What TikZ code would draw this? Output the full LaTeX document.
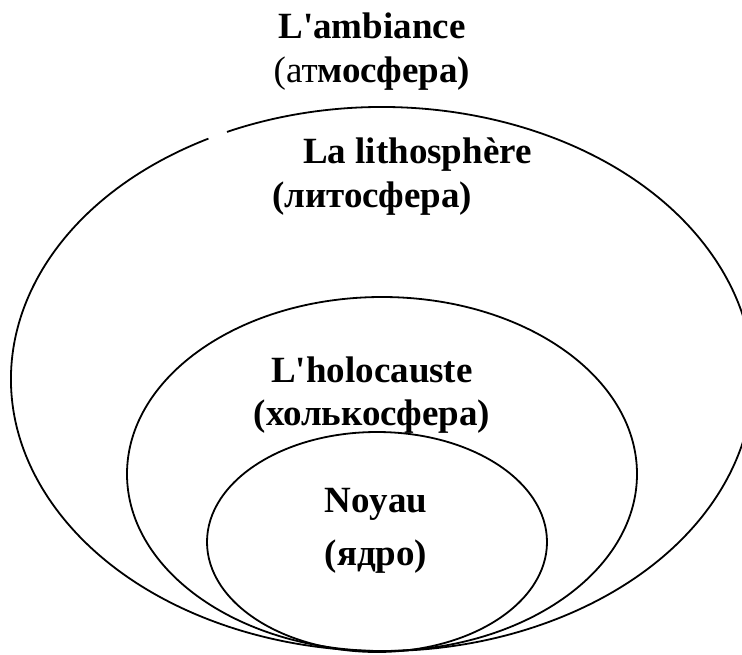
\documentclass[tikz,border=0pt]{standalone}
\usepackage{fontspec}
\setmainfont{Liberation Serif}[Ligatures=TeXOff]
\begin{document}
\begin{tikzpicture}[x=1pt,y=-1pt,
  ring/.style={draw=black,line width=1.8pt},
  lbl/.style={inner sep=0pt,font=\fontsize{37}{44}\selectfont\bfseries}]
\useasboundingbox (0,0) rectangle (742,654);
\clip (0,0) rectangle (742,654);
% outer ellipse with small gap at upper left
\draw[ring] (382,379) ++(117.9:371 and -272) arc[start angle=117.9,end angle=474.7,x radius=371,y radius=-272];
% middle ellipse
\draw[ring] (382,474) ellipse[x radius=255,y radius=177];
% inner ellipse
\draw[ring] (377,542) ellipse[x radius=170,y radius=110];
% labels
\node[lbl,anchor=base] (amb) at (372,38) {L'ambiance};
\node[lbl,anchor=base] (ambru) at (372,82) {\mdseries(ат\bfseries мосфера)};
\node[lbl,anchor=base west] (lith) at (303,163) {La lithosphère};
\node[lbl,anchor=base west] (lithru) at (272,207) {(литосфера)};
\node[lbl,anchor=base] (holo) at (372,382) {L'holocauste};
\node[lbl,anchor=base] (holoru) at (372,425) {(холькосфера)};
\node[lbl,anchor=base] (noy) at (376,512) {Noyau};
\node[lbl,anchor=base] (noyru) at (376,565) {(ядро)};
\end{tikzpicture}
\end{document}
